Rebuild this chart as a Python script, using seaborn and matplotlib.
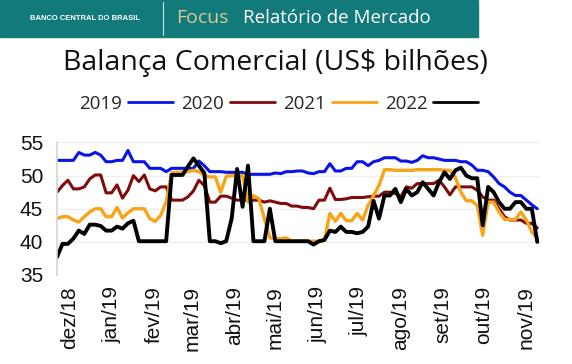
import numpy as np
import pandas as pd
import matplotlib
matplotlib.use('Agg')
import matplotlib.pyplot as plt
from matplotlib.patches import Rectangle
from matplotlib.lines import Line2D
import seaborn as sns

# séries (valores a cada 4 dias, US$ bilhões)
inicio = '2018-11-22'
passo = '4D'

v2019 = [52.3, 52.3, 52.3, 52.3, 53.5, 53.1, 53.1, 53.5, 53.1, 52.1,
         52.1, 52.3, 52.3, 53.8, 52.1, 52.1, 52.1, 51.1, 51.1, 51.1,
         50.6, 51.1, 51.1, 51.1, 51.1, 51.1, 52.2, 51.5, 50.6, 50.6,
         50.6, 50.5, 50.5, 50.5, 50.5, 50.2, 50.2, 50.2, 50.2, 50.2,
         50.4, 50.3, 50.6, 50.6, 50.7, 50.7, 50.4, 50.3, 50.6, 50.6,
         51.8, 50.7, 50.7, 51.1, 51.1, 52.1, 52.1, 51.5, 52.1, 52.3,
         52.7, 52.7, 52.7, 52.2, 52.2, 52.0, 52.3, 53.0, 52.7, 52.7,
         52.5, 52.3, 52.3, 52.3, 52.1, 52.1, 51.6, 50.8, 50.8, 50.6,
         49.8, 48.8, 48.3, 47.5, 47.0, 47.0, 46.3, 45.6, 45.0]

v2020 = [47.5, 48.5, 49.3, 48.0, 48.0, 48.3, 49.5, 50.1, 50.1, 47.4,
         47.4, 48.6, 46.6, 47.8, 50.0, 49.1, 50.1, 48.0, 47.7, 48.3,
         48.3, 46.3, 46.3, 46.3, 46.8, 47.7, 49.3, 48.5, 46.0, 46.0,
         46.9, 46.9, 46.6, 46.3, 46.3, 46.3, 46.3, 46.3, 46.0, 46.2,
         46.0, 45.8, 45.8, 45.4, 45.4, 45.2, 45.2, 45.0, 46.3, 46.3,
         48.1, 46.4, 46.4, 46.5, 46.7, 46.7, 46.7, 46.8, 46.9, 46.9,
         47.5, 47.5, 47.3, 46.8, 48.3, 48.1, 48.8, 48.8, 48.8, 48.8,
         49.3, 48.3, 47.1, 48.3, 48.3, 48.3, 48.3, 47.8, 46.8, 46.3,
         46.3, 45.0, 43.8, 43.3, 43.3, 43.3, 42.8, 42.8, 42.1]

v2021 = [43.5, 43.8, 43.8, 43.3, 43.0, 43.8, 44.5, 45.0, 45.0, 43.8,
         43.8, 45.2, 43.6, 44.4, 45.0, 45.0, 45.0, 43.5, 43.1, 44.0,
         46.0, 50.4, 50.5, 50.5, 50.6, 50.8, 50.6, 50.0, 49.8, 49.8,
         47.5, 49.9, 50.0, 50.0, 50.0, 46.0, 47.0, 46.5, 43.5, 40.6,
         40.5, 40.5, 40.6, 40.1, 40.1, 40.1, 40.1, 40.1, 40.1, 40.2,
         44.3, 43.1, 44.3, 43.2, 43.2, 44.3, 43.3, 45.5, 47.0, 48.5,
         50.9, 50.9, 50.8, 50.8, 50.8, 50.8, 50.9, 50.9, 50.9, 50.9,
         50.9, 50.8, 50.8, 49.7, 47.5, 46.2, 46.2, 45.5, 41.0, 46.0,
         46.0, 44.5, 43.4, 43.4, 43.4, 44.5, 43.3, 41.5, 40.5]

v2022 = [37.7, 39.7, 39.7, 40.5, 41.7, 41.2, 42.6, 42.6, 42.4, 41.7,
         41.7, 42.3, 42.0, 42.8, 43.2, 40.1, 40.1, 40.1, 40.1, 40.1,
         40.1, 50.1, 50.1, 50.1, 51.4, 52.6, 51.5, 50.4, 40.1, 40.1,
         39.8, 40.1, 43.5, 51.0, 45.3, 51.5, 40.1, 40.1, 40.1, 45.0,
         40.1, 40.1, 40.1, 40.1, 40.1, 40.1, 40.1, 39.6, 40.1, 40.3,
         41.7, 41.5, 42.3, 41.5, 41.5, 41.3, 41.5, 42.3, 46.2, 43.5,
         47.0, 47.0, 48.0, 46.0, 48.0, 47.0, 47.5, 49.0, 48.0, 47.0,
         49.0, 50.5, 49.5, 50.8, 51.2, 50.0, 49.6, 49.6, 42.5, 48.3,
         47.5, 46.0, 45.0, 45.0, 46.0, 46.0, 45.0, 45.0, 40.0]

anos = ['2019', '2020', '2021', '2022']
cores = ['#0a14e6', '#7f0b0b', '#f7a416', '#000000']
larguras = [2.2, 2.2, 2.4, 2.8]

meses = ['dez/18', 'jan/19', 'fev/19', 'mar/19', 'abr/19', 'mai/19',
         'jun/19', 'jul/19', 'ago/19', 'set/19', 'out/19', 'nov/19']

datas = pd.date_range(inicio, periods=len(v2019), freq=passo)
df = pd.DataFrame({'data': datas, '2019': v2019, '2020': v2020,
                   '2021': v2021, '2022': v2022})
df_long = df.melt(id_vars='data', var_name='ano', value_name='valor')

sns.set_style('white')
plt.rcParams['font.family'] = ['Liberation Sans', 'DejaVu Sans']

fig = plt.figure(figsize=(5.72, 3.64), dpi=100)
fig.patch.set_facecolor('white')

# faixa do cabeçalho
fig.patches.append(Rectangle((0, 1 - 37 / 364), 478 / 572, 37 / 364,
                             transform=fig.transFigure, color='#137a7b', zorder=0))
fig.lines.append(Line2D([163 / 572, 163 / 572], [1 - 35 / 364, 1 - 2 / 364],
                        transform=fig.transFigure, color='#cfe3e3', lw=0.8))
fig.text(30 / 572, 1 - 18 / 364, 'BANCO CENTRAL DO BRASIL', color='white',
         fontsize=5.5, fontweight='bold', va='center', ha='left')
fig.text(176 / 572, 1 - 18 / 364, 'Focus', color='#d8cb96', fontsize=14,
         family='Open Sans', va='center', ha='left')
fig.text(243 / 572, 1 - 18 / 364, 'Relatório de Mercado', color='white',
         fontsize=13.5, family='Open Sans', va='center', ha='left')

fig.text(275 / 572, 1 - 63 / 364, 'Balança Comercial (US$ bilhões)', color='#111111',
         fontsize=20.5, family='Open Sans', va='center', ha='center')

ax = fig.add_axes([57 / 572, 1 - 275 / 364, 483 / 572, 132.5 / 364])

for ano, cor, lw in zip(anos, cores, larguras):
    sns.lineplot(data=df_long[df_long['ano'] == ano], x='data', y='valor',
                 color=cor, linewidth=lw, ax=ax, legend=False)

ax.set_ylim(35, 55)
ax.set_yticks([35, 40, 45, 50, 55])
ax.set_xlim(datas[0], pd.Timestamp('2019-11-11'))
ax.set_xticks(pd.date_range('2018-12-01', periods=len(meses), freq='MS'))
ax.set_xticklabels(meses, rotation=90)
ax.set_xlabel('')
ax.set_ylabel('')
ax.grid(axis='y', color='#efefef', lw=1)
for s in ['top', 'right', 'bottom']:
    ax.spines[s].set_visible(False)
ax.spines['left'].set_color('#d4d4d4')
ax.spines['left'].set_linewidth(1.2)
ax.tick_params(axis='y', length=0, pad=10, labelsize=15, labelcolor='#111111')
ax.tick_params(axis='x', length=0, pad=8, labelsize=15, labelcolor='#111111')

handles = [Line2D([], [], color=c, lw=2) for c in cores]
fig.legend(handles, anos, loc='center', bbox_to_anchor=(279 / 572, 1 - 104 / 364),
           ncol=4, frameon=False, markerfirst=False, handlelength=2.4,
           handletextpad=0.3, columnspacing=0.45,
           prop={'family': 'Open Sans', 'size': 13.5})

fig.savefig('out.png', dpi=100)
